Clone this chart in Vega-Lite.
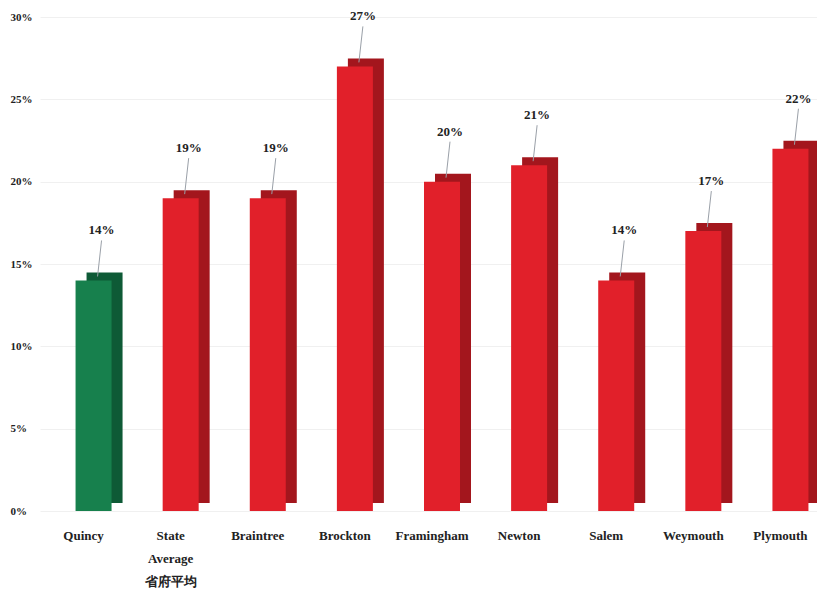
{
  "$schema": "https://vega.github.io/schema/vega-lite/v6.json",
  "width": 784,
  "height": 494,
  "autosize": {"type": "none"},
  "padding": {"left": 40, "top": 17, "right": 0, "bottom": 83},
  "background": "white",
  "config": {"view": {"stroke": null}},
  "data": {
    "values": [
      {"city": "Quincy", "rate": 0.14},
      {"city": "State Average", "rate": 0.19},
      {"city": "Braintree", "rate": 0.19},
      {"city": "Brockton", "rate": 0.27},
      {"city": "Framingham", "rate": 0.20},
      {"city": "Newton", "rate": 0.21},
      {"city": "Salem", "rate": 0.14},
      {"city": "Weymouth", "rate": 0.17},
      {"city": "Plymouth", "rate": 0.22}
    ]
  },
  "encoding": {
    "x": {
      "field": "city",
      "type": "nominal",
      "sort": null,
      "scale": {"paddingInner": 0, "paddingOuter": 0},
      "axis": {
        "title": null,
        "domain": false,
        "ticks": false,
        "labelAngle": 0,
        "labelFont": "Liberation Serif",
        "labelFontWeight": "bold",
        "labelFontSize": 13,
        "labelColor": "#222222",
        "labelPadding": 18,
        "labelBaseline": "top",
        "labelLineHeight": 23,
        "labelExpr": "datum.value == 'State Average' ? ['State', 'Average', '省府平均'] : datum.label"
      }
    },
    "y": {
      "field": "rate",
      "type": "quantitative",
      "scale": {"domain": [0, 0.3]},
      "axis": {
        "title": null,
        "values": [0, 0.05, 0.1, 0.15, 0.2, 0.25, 0.3],
        "format": ".0%",
        "domain": false,
        "ticks": false,
        "tickSize": 0,
        "labelAlign": "left",
        "labelPadding": 30,
        "labelFont": "Liberation Serif",
        "labelFontWeight": "bold",
        "labelFontSize": 11,
        "labelColor": "#222222",
        "grid": true,
        "gridColor": "#f0f0f0"
      }
    }
  },
  "layer": [
    {
      "mark": {"type": "bar", "width": 36, "xOffset": 21, "yOffset": -8},
      "encoding": {
        "color": {
          "condition": {"test": "datum.city === 'Quincy'", "value": "#0e5a36"},
          "value": "#a3161d"
        }
      }
    },
    {
      "mark": {"type": "bar", "width": 36, "xOffset": 10},
      "encoding": {
        "color": {
          "condition": {"test": "datum.city === 'Quincy'", "value": "#17804d"},
          "value": "#e1202a"
        }
      }
    },
    {
      "mark": {"type": "rule", "color": "#9aa0a8", "strokeWidth": 1, "xOffset": 14, "x2Offset": 18, "yOffset": -4, "y2Offset": -40},
      "encoding": {
        "x2": {"field": "city"},
        "y2": {"field": "rate"}
      }
    },
    {
      "mark": {"type": "text", "dx": 18, "dy": -50, "font": "Liberation Serif", "fontWeight": "bold", "fontSize": 13, "color": "#222222"},
      "encoding": {
        "text": {"field": "rate", "type": "quantitative", "format": ".0%"}
      }
    }
  ]
}
